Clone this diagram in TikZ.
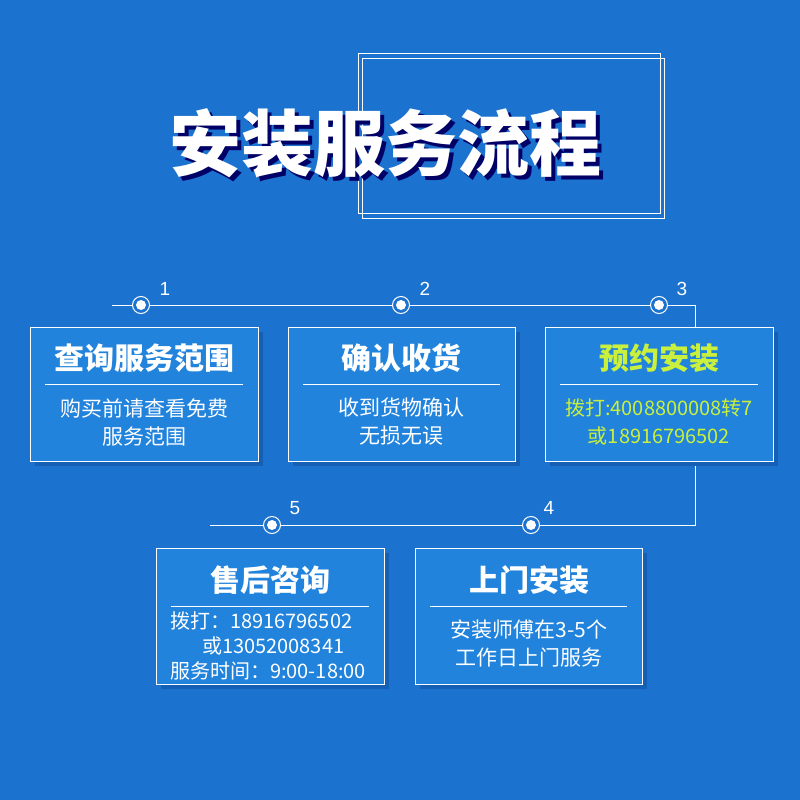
\documentclass[tikz,border=0pt]{standalone}
\usepackage{fontspec}
\newfontfamily\cjk{Noto Sans CJK SC}
\newfontfamily\num{Liberation Sans}
\begin{document}
\begin{tikzpicture}[x=1pt,y=-1pt,
  box/.style={draw=white,line width=1pt,fill=boxblue},
  ttl/.style={font=\cjk\bfseries\fontsize{30}{32}\selectfont,text=white},
  body/.style={font=\cjk\fontsize{21}{28}\selectfont,text=white,align=center},
  dotm/.style={circle,draw=white,line width=1pt,fill=bg,minimum size=17pt,inner sep=0pt,path picture={\fill[white] (path picture bounding box.center) circle (5pt);}},
  numl/.style={font=\num\fontsize{19}{20}\selectfont,text=white},
  ln/.style={white,line width=1pt}]
\definecolor{bg}{HTML}{1B72CF}
\definecolor{boxblue}{HTML}{2183DC}
\definecolor{shadowblue}{HTML}{1560B4}
\definecolor{ygreen}{HTML}{C8F03C}
\fill[bg] (0,0) rectangle (800,800);
\useasboundingbox (0,0) rectangle (800,800);
% title frames
\draw[white,line width=0.8pt] (358,53) rectangle (660,213);
\draw[white,line width=0.8pt] (362,58) rectangle (664,218);
\node (title) [font=\cjk\bfseries\fontsize{72}{74}\selectfont,text=white,
  postaction={}] at (385,145) {\pgfsetfillopacity{1}\rlap{\hspace{4pt}\raisebox{-4pt}{\color{black!60!blue}安装服务流程}}安装服务流程};
% connector line
\coordinate (s) at (112,305);
\coordinate (c1) at (695,305);
\coordinate (c2) at (695,525);
\coordinate (e) at (210,525);
\draw[ln] (s) -- (c1) -- (c2) -- (e);
\node[dotm] (d1) at (141,305) {};
\node[dotm] (d2) at (401,305) {};
\node[dotm] (d3) at (659,305) {};
\node[dotm] (d4) at (531,525) {};
\node[dotm] (d5) at (272,525) {};
\node[numl] (n1) at (165,289) {1};
\node[numl] (n2) at (425,289) {2};
\node[numl] (n3) at (682,289) {3};
\node[numl] (n4) at (549,508) {4};
\node[numl] (n5) at (295,508) {5};
% boxes
\foreach \a/\b/\c/\d in {30/327/258/461, 288/327/515/461, 545/327/773/461, 156/548/384/684, 415/548/642/684}{
  \fill[shadowblue] (\a+5,\b+5) rectangle (\c+5,\d+5);
  \draw[box] (\a,\b) rectangle (\c,\d);
}
% box 1
\node[ttl] (t1) at (144,358) {查询服务范围};
\draw[ln] (45,384) -- (243,384);
\node[body] (b1) at (144,422) {购买前请查看免费\\服务范围};
% box 2
\node[ttl] (t2) at (401,358) {确认收货};
\draw[ln] (303,384) -- (500,384);
\node[body] (b2) at (401,422) {收到货物确认\\无损无误};
% box 3
\node[ttl,text=ygreen] (t3) at (659,358) {预约安装};
\draw[ln] (560,384) -- (758,384);
\node[body,text=ygreen,font=\cjk\fontsize{20}{28}\selectfont] (b3) at (659,422) {拨打:4008800008转7\\或18916796502};
% box 5
\node[ttl] (t5) at (270,580) {售后咨询};
\draw[ln] (171,606) -- (369,606);
\node[body,font=\cjk\fontsize{20}{25}\selectfont,align=left] (b5) at (268,646) {拨打：18916796502\\\hspace{1.6em}或13052008341\\服务时间：9:00-18:00};
% box 4
\node[ttl] (t4) at (529,580) {上门安装};
\draw[ln] (430,606) -- (627,606);
\node[body] (b4) at (529,644) {安装师傅在3-5个\\工作日上门服务};
\end{tikzpicture}
\end{document}
